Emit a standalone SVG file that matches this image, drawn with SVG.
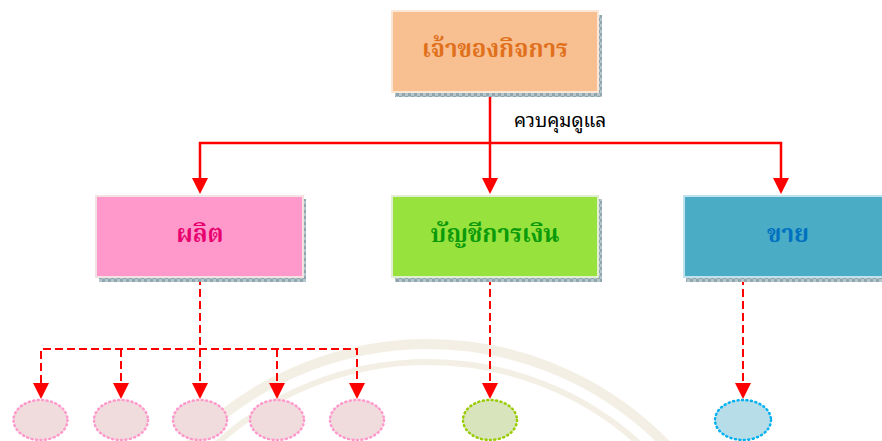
<svg xmlns="http://www.w3.org/2000/svg" width="882" height="441" viewBox="0 0 882 441">
<defs>
<pattern id="shd" width="6" height="6" patternUnits="userSpaceOnUse">
<rect width="6" height="6" fill="#8FA6AE"/>
<rect x="0" y="0" width="3" height="3" fill="#B5C6CC"/>
<rect x="3" y="3" width="3" height="3" fill="#B5C6CC"/>
</pattern>
<style>
.shadow{fill:url(#shd)}
.lbl{font-family:"Noto Serif Thai","Noto Sans Thai Looped","Noto Sans Thai","Tahoma","DejaVu Sans",sans-serif;font-weight:bold;font-size:24px;text-anchor:middle}
.small{font-family:"Noto Sans Thai Looped","Noto Sans Thai","Tahoma","DejaVu Sans",sans-serif;font-size:19px}
.solid{stroke:#FF0000;stroke-width:2.5;fill:none}
.dash{stroke:#FF0000;stroke-width:2;fill:none;stroke-dasharray:8,4}
.arr{fill:#FF0000}
.dot{stroke-width:2.5;stroke-dasharray:1,3.5;stroke-linecap:round}
</style>
</defs>
<rect width="882" height="441" fill="#FFFFFF"/>
<g id="watermark" fill="none" stroke="#EEE6D4" opacity="0.6">
<circle cx="428" cy="676" r="332" stroke-width="10"/>
<circle cx="428" cy="676" r="314" stroke-width="6"/>
</g>
<g id="connectors">
<path class="solid" d="M490,92 V178"/>
<path class="solid" d="M200,178 V143 H781 V178"/>
<path class="arr" d="M482,178 H498 L490,194 Z"/>
<path class="arr" d="M192,178 H208 L200,194 Z"/>
<path class="arr" d="M773,178 H789 L781,194 Z"/>
<text class="small" x="514" y="127" fill="#000000">ควบคุมดูแล</text>
<path class="dash" d="M200,277 V383"/>
<path class="dash" d="M41,383 V349 H357 V383"/>
<path class="dash" d="M121,349 V383"/>
<path class="dash" d="M277,349 V383"/>
<path class="dash" d="M490,277 V383"/>
<path class="dash" d="M743,277 V383"/>
<path class="arr" d="M33,383 H49 L41,399 Z"/>
<path class="arr" d="M113,383 H129 L121,399 Z"/>
<path class="arr" d="M192,383 H208 L200,399 Z"/>
<path class="arr" d="M269,383 H285 L277,399 Z"/>
<path class="arr" d="M349,383 H365 L357,399 Z"/>
<path class="arr" d="M482,383 H498 L490,399 Z"/>
<path class="arr" d="M735,383 H751 L743,399 Z"/>
</g>
<g id="owner">
<rect class="shadow" x="395" y="15" width="207" height="82"/>
<rect x="392" y="11" width="206" height="81" fill="#F8BF90" stroke="#FCE6D6" stroke-width="2"/>
<text class="lbl" x="495" y="57" fill="#E0701C">เจ้าของกิจการ</text>
</g>
<g id="production">
<rect class="shadow" x="99" y="199" width="207" height="83"/>
<rect x="96" y="196" width="207" height="81" fill="#FF99CC" stroke="#F4E2E2" stroke-width="2"/>
<text class="lbl" x="200" y="242" fill="#E8006E">ผลิต</text>
</g>
<g id="accounting">
<rect class="shadow" x="395" y="199" width="207" height="83"/>
<rect x="392" y="196" width="206" height="81" fill="#98E23E" stroke="#E2EED2" stroke-width="2"/>
<text class="lbl" x="495" y="242" fill="#0A9A0A">บัญชีการเงิน</text>
</g>
<g id="sales">
<rect class="shadow" x="686" y="199" width="200" height="83"/>
<rect x="684" y="196" width="202" height="81" fill="#4BACC6" stroke="#C0E2EC" stroke-width="2"/>
<text class="lbl" x="788" y="242" fill="#0070C0">ขาย</text>
</g>
<g id="p1"><ellipse class="dot" cx="40.5" cy="420" rx="27" ry="20" fill="#F0DCDC" stroke="#FF99CC"/></g>
<g id="p2"><ellipse class="dot" cx="121" cy="420" rx="27" ry="20" fill="#F0DCDC" stroke="#FF99CC"/></g>
<g id="p3"><ellipse class="dot" cx="200" cy="420" rx="27" ry="20" fill="#F0DCDC" stroke="#FF99CC"/></g>
<g id="p4"><ellipse class="dot" cx="277" cy="420" rx="27" ry="20" fill="#F0DCDC" stroke="#FF99CC"/></g>
<g id="p5"><ellipse class="dot" cx="357" cy="420" rx="27" ry="20" fill="#F0DCDC" stroke="#FF99CC"/></g>
<g id="a1"><ellipse class="dot" cx="490" cy="420" rx="27" ry="20" fill="#D8E4BC" stroke="#99CC00"/></g>
<g id="s1"><ellipse class="dot" cx="743" cy="420" rx="28" ry="20" fill="#B7DDE8" stroke="#00B0F0"/></g>
</svg>
